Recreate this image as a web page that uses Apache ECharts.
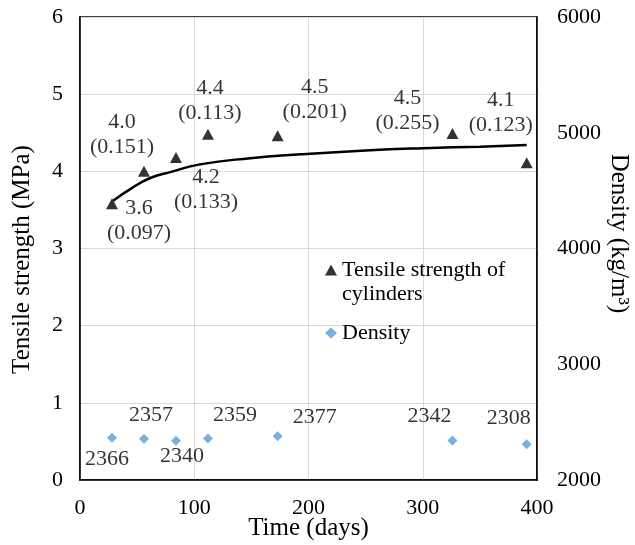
<!DOCTYPE html>
<html>
<head>
<meta charset="utf-8">
<title>Tensile strength and density</title>
<script src="https://cdn.jsdelivr.net/npm/echarts@6/dist/echarts.min.js"></script>
<style>
  html, body { margin: 0; padding: 0; background: #fff; }
  #main { width: 635px; height: 545px; }
</style>
</head>
<body>
<div id="main"></div>
<script>
// test ages (days)
var days = [28, 56, 84, 112, 173, 326, 391];
// tensile strength of cylinders (MPa) and its std dev
var tensile = [3.58, 4.0, 4.18, 4.48, 4.46, 4.49, 4.11];
var tensileText = ['3.6', '4.0', '4.2', '4.4', '4.5', '4.5', '4.1'];
var tensileSd = ['0.097', '0.151', '0.133', '0.113', '0.201', '0.255', '0.123'];
// density (kg/m3)
var density = [2366, 2357, 2340, 2359, 2377, 2342, 2308];
// trend curve
var trendDays = [29, 45, 61, 79, 105, 149, 193, 250, 300, 350, 391];
var trendVals = [3.62, 3.78, 3.91, 3.99, 4.09, 4.17, 4.22, 4.27, 4.30, 4.32, 4.34];

// label placement (pixels from the marker)
var tensileOffset = [[27, 17], [-22, -37], [30, 32], [2, -34], [37, -36], [-45, -23], [-26, -50]];
var densityOffset = [[-5, 22], [7, -23], [6, 16], [27, -23], [37, -19], [-23, -24], [-18, -26]];

var font = 'Liberation Serif';
var tensileName = 'Tensile strength of cylinders';
var myChart = echarts.init(document.getElementById('main'));

var option = {
  animation: false,
  textStyle: { fontFamily: font, color: '#000' },
  grid: {
    left: 80, right: 98, top: 17, bottom: 65,
    outerBoundsMode: 'none',
    containLabel: false,
    show: true, borderColor: '#000', borderWidth: 1.5
  },
  legend: {
    orient: 'vertical',
    left: 325, top: 234,
    padding: 0,
    itemWidth: 12, itemHeight: 11,
    itemGap: 15,
    textStyle: { fontFamily: font, fontSize: 22, color: '#000', lineHeight: 24 },
    // blank first line keeps the marker level with the first text line
    formatter: function (name) {
      return name === tensileName ? ' \nTensile strength of\ncylinders' : name;
    },
    data: [
      { name: tensileName, icon: 'triangle' },
      { name: 'Density', icon: 'diamond' }
    ]
  },
  xAxis: {
    type: 'value', min: 0, max: 400, interval: 100,
    name: 'Time (days)', nameLocation: 'middle', nameGap: 36,
    nameMoveOverlap: false,
    nameTextStyle: { fontFamily: font, fontSize: 25, color: '#000' },
    axisLine: { lineStyle: { color: '#000', width: 1.5 } },
    axisTick: { show: false },
    axisLabel: { fontFamily: font, fontSize: 22, color: '#000', margin: 17 },
    splitLine: { lineStyle: { color: '#d9d9d9', width: 1 } }
  },
  yAxis: [
    {
      type: 'value', min: 0, max: 6, interval: 1,
      name: 'Tensile strength (MPa)', nameLocation: 'middle', nameGap: 45,
      nameMoveOverlap: false,
      nameTextStyle: { fontFamily: font, fontSize: 25, color: '#000', padding: [0, 22, 0, 0] },
      axisLine: { show: true, lineStyle: { color: '#000', width: 1.5 } },
      axisTick: { show: false },
      axisLabel: { fontFamily: font, fontSize: 22, color: '#000', margin: 17 },
      splitLine: { lineStyle: { color: '#d9d9d9', width: 1 } }
    },
    {
      type: 'value', min: 2000, max: 6000, interval: 1000, position: 'right',
      name: 'Density (kg/m³)', nameLocation: 'middle', nameGap: 69, nameRotate: -90,
      nameMoveOverlap: false,
      nameTextStyle: { fontFamily: font, fontSize: 25, color: '#000', padding: [0, 30, 0, 0] },
      axisLine: { show: true, lineStyle: { color: '#000', width: 1.5 } },
      axisTick: { show: false },
      axisLabel: {
        fontFamily: font, fontSize: 22, color: '#000', margin: 20,
        formatter: function (v) { return String(v); }
      },
      splitLine: { show: false }
    }
  ],
  series: [
    {
      name: 'trend',
      type: 'line',
      yAxisIndex: 0,
      smooth: true,
      symbol: 'none',
      lineStyle: { color: '#000', width: 2.5 },
      data: trendDays.map(function (d, i) { return [d, trendVals[i]]; }),
      z: 2
    },
    {
      name: tensileName,
      type: 'scatter',
      yAxisIndex: 0,
      symbol: 'triangle',
      symbolSize: [12, 11],
      itemStyle: { color: '#000' },
      label: {
        show: true, position: 'inside',
        fontFamily: font, fontSize: 22, color: '#000', lineHeight: 25,
        align: 'center', verticalAlign: 'middle',
        formatter: function (p) {
          return tensileText[p.dataIndex] + '\n(' + tensileSd[p.dataIndex] + ')';
        }
      },
      data: days.map(function (d, i) {
        return { value: [d, tensile[i]], label: { offset: tensileOffset[i] } };
      }),
      z: 3
    },
    {
      name: 'Density',
      type: 'scatter',
      yAxisIndex: 1,
      symbol: 'diamond',
      symbolSize: 10,
      itemStyle: { color: '#5b9bd5' },
      label: {
        show: true, position: 'inside',
        fontFamily: font, fontSize: 22, color: '#000',
        align: 'center', verticalAlign: 'middle',
        formatter: function (p) { return String(density[p.dataIndex]); }
      },
      data: days.map(function (d, i) {
        return { value: [d, density[i]], label: { offset: densityOffset[i] } };
      }),
      z: 3
    }
  ]
};

myChart.setOption(option);
</script>
</body>
</html>
